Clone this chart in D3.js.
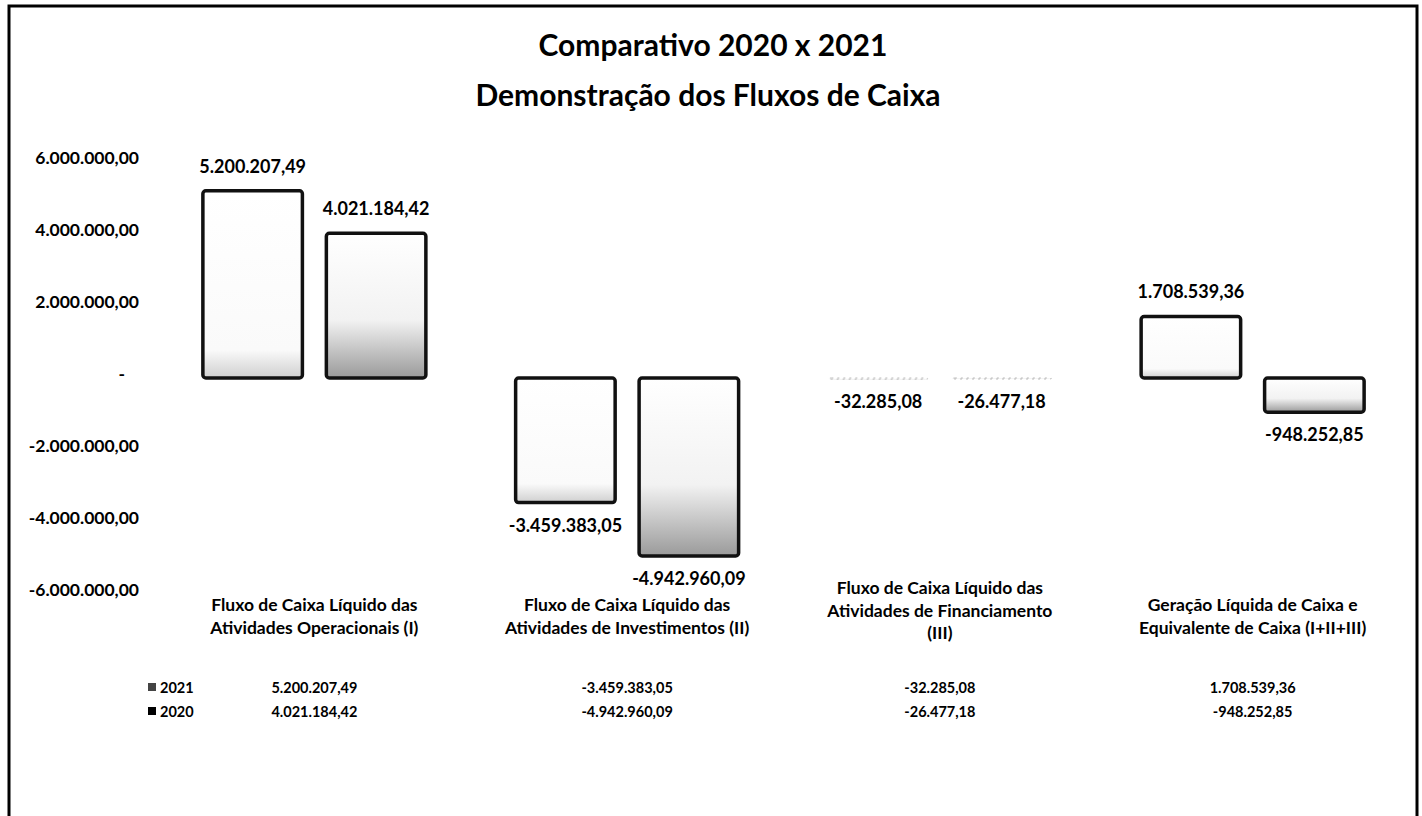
<!DOCTYPE html>
<html>
<head>
<meta charset="utf-8">
<script src="https://cdn.jsdelivr.net/npm/d3@7"></script>
<style>
  body { margin: 0; background: #fff; }
  text { font-family: Lato, "Open Sans", sans-serif; font-weight: bold; fill: #000; }
</style>
</head>
<body>
<div id="chart"></div>
<script>
const categories = [
  ["Fluxo de Caixa Líquido das", "Atividades Operacionais (I)"],
  ["Fluxo de Caixa Líquido das", "Atividades de Investimentos (II)"],
  ["Fluxo de Caixa Líquido das", "Atividades de Financiamento", "(III)"],
  ["Geração Líquida de Caixa e", "Equivalente de Caixa (I+II+III)"]
];
const series = ["2021", "2020"];
const values2021 = [5200207.49, -3459383.05, -32285.08, 1708539.36];
const values2020 = [4021184.42, -4942960.09, -26477.18, -948252.85];
const yTicks = [-6000000, -4000000, -2000000, 0, 2000000, 4000000, 6000000];
const titleLines = ["Comparativo 2020 x 2021", "Demonstração dos Fluxos de Caixa"];

const seriesValues = { "2021": values2021, "2020": values2020 };

const renderedWidth = 1422;
const renderedHeight = 816;
const margin = { top: 162, right: 9, bottom: 222, left: 158 };

// Brazilian number format, plain hyphen for negatives like the original sheet
const ptBR = d3.formatLocale({ decimal: ",", thousands: ".", grouping: [3], currency: ["R$ ", ""], minus: "-" });
const fmt = ptBR.format(",.2f");
const tickFmt = function(d) { return d === 0 ? "-" : fmt(d) };

const svg = d3.select("#chart").append("svg")
  .attr("width", renderedWidth)
  .attr("height", renderedHeight);

const defs = svg.append("defs");
const grad = defs.append("linearGradient")
  .attr("id", "fade-2020")
  .attr("x1", "0%").attr("y1", "0%").attr("x2", "0%").attr("y2", "100%");
grad.append("stop").attr("offset", 0).attr("stop-color", "#fff");
grad.append("stop").attr("offset", 0.6).attr("stop-color", "#f2f2f2");
grad.append("stop").attr("offset", 1).attr("stop-color", "#9a9a9a");
const grad21 = defs.append("linearGradient")
  .attr("id", "fade-2021")
  .attr("x1", "0%").attr("y1", "0%").attr("x2", "0%").attr("y2", "100%");
grad21.append("stop").attr("offset", 0).attr("stop-color", "#fff");
grad21.append("stop").attr("offset", 0.85).attr("stop-color", "#fafafa");
grad21.append("stop").attr("offset", 1).attr("stop-color", "#cfcfcf");

// chart border (bottom edge runs off the page, as in the scan)
svg.append("rect")
  .attr("x", 9).attr("y", 6)
  .attr("width", 1408).attr("height", 840)
  .attr("fill", "none")
  .attr("stroke", "#000")
  .attr("stroke-width", 3);

// title
svg.append("g").selectAll("text")
  .data(titleLines)
  .enter().append("text")
  .attr("x", function(d, i) { return i === 0 ? 713 : 708 })
  .attr("y", function(d, i) { return 56 + i * 50 })
  .attr("text-anchor", "middle")
  .style("font-size", "30px")
  .text(function(d) { return d });

const x0 = d3.scaleBand()
  .domain(d3.range(categories.length))
  .range([margin.left, renderedWidth - margin.right - 4])
  .paddingInner(0.287)
  .paddingOuter(0.1435);

const x1 = d3.scaleBand()
  .domain(series)
  .range([0, x0.bandwidth()])
  .paddingInner(0.194);

const y = d3.scaleLinear()
  .domain([-6000000, 6000000])
  .range([renderedHeight - margin.bottom, margin.top]);

// y axis, labels only
const yAxis = svg.append("g")
  .attr("transform", "translate(139,0)")
  .call(d3.axisLeft(y).tickValues(yTicks).tickFormat(tickFmt).tickSize(0).tickPadding(0));
yAxis.select(".domain").remove();
yAxis.selectAll("text")
  .style("font-size", "17.5px")
  .attr("dx", function(d) { return d === 0 ? -14 : 0 })
  .attr("dy", "0.1em");

const groups = svg.append("g")
  .selectAll("g")
  .data(categories)
  .enter().append("g")
  .attr("transform", function(d, i) { return "translate(" + x0(i) + ",0)" });

const bars = groups.selectAll("g")
  .data(function(d, i) { return series.map(function(s) { return { key: s, value: seriesValues[s][i] } }) })
  .enter().append("g");

const tiny = function(d) { return Math.abs(y(d.value) - y(0)) < 4 };

bars.append("rect")
  .attr("x", function(d) { return x1(d.key) })
  .attr("y", function(d) { return y(Math.max(0, d.value)) })
  .attr("width", x1.bandwidth())
  .attr("height", function(d) { return Math.max(1, Math.abs(y(d.value) - y(0))) })
  .attr("rx", 3).attr("ry", 3)
  .attr("fill", function(d) { return "url(#fade-" + d.key + ")" })
  .attr("stroke", function(d) { return tiny(d) ? "#bbb" : "#111" })
  .attr("stroke-width", function(d) { return tiny(d) ? 1 : 3.5 })
  .attr("stroke-dasharray", function(d) { return tiny(d) ? "2,4" : null });

bars.append("text")
  .attr("x", function(d) { return x1(d.key) + x1.bandwidth() / 2 })
  .attr("y", function(d) { return d.value >= 0 ? y(d.value) - 18 : y(d.value) + 29 })
  .attr("text-anchor", "middle")
  .style("font-size", "18px")
  .text(function(d) { return fmt(d.value) });

// category labels
groups.append("text")
  .attr("text-anchor", "middle")
  .style("font-size", "17.5px")
  .each(function(lines) {
    const t = d3.select(this);
    const top = 611 - (lines.length - 2) * 17;
    lines.forEach(function(line, k) {
      t.append("tspan")
        .attr("x", x0.bandwidth() / 2)
        .attr("y", top + k * 22.5)
        .text(line);
    });
  });

// data table rows
const rowY = { "2021": 693, "2020": 717 };
const table = svg.append("g");
series.forEach(function(s) {
  table.append("rect")
    .attr("x", 148).attr("y", rowY[s] - 10)
    .attr("width", 8).attr("height", 8)
    .attr("fill", s === "2021" ? "#444" : "#000");
  table.append("text")
    .attr("x", 160).attr("y", rowY[s])
    .style("font-size", "14.5px")
    .text(s);
  table.selectAll(null)
    .data(seriesValues[s])
    .enter().append("text")
    .attr("x", function(d, i) { return x0(i) + x0.bandwidth() / 2 })
    .attr("y", rowY[s])
    .attr("text-anchor", "middle")
    .style("font-size", "14.5px")
    .text(function(d) { return fmt(d) });
});
</script>
</body>
</html>
